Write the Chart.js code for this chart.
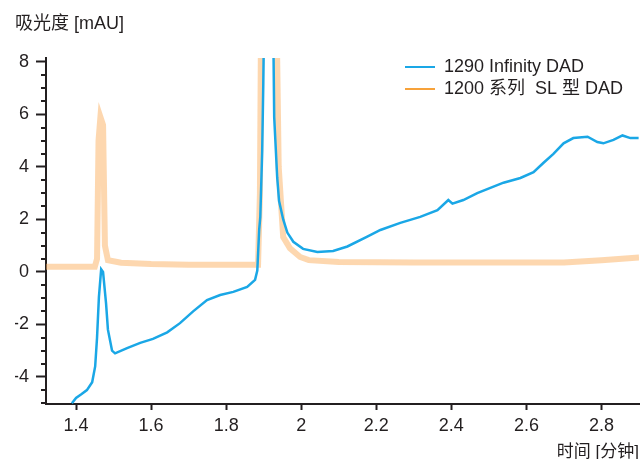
<!DOCTYPE html>
<html>
<head>
<meta charset="utf-8">
<script src="https://cdn.jsdelivr.net/npm/chart.js@4.4.1/dist/chart.umd.min.js"></script>
<style>
  html, body { margin: 0; padding: 0; background: #ffffff; }
  canvas { display: block; }
</style>
</head>
<body>
<canvas id="c" width="643" height="459"></canvas>
<script>
// ---- data ----
const seriesNames = ['1290 Infinity DAD', '1200 系列  SL 型 DAD'];
const yTitle = '吸光度 [mAU]';
const xTitle = '时间 [分钟]';

const blueTime = [1.389, 1.400, 1.415, 1.429, 1.443, 1.451, 1.456, 1.461, 1.467, 1.472,
  1.480, 1.485, 1.496, 1.504, 1.536, 1.571, 1.605, 1.643, 1.677, 1.712,
  1.749, 1.784, 1.819, 1.856, 1.877, 1.883, 1.888, 1.891, 1.896, 1.899,
  1.905, 1.922, 1.928, 1.936, 1.941, 1.952, 1.963, 1.979, 2.005, 2.043,
  2.085, 2.123, 2.176, 2.211, 2.264, 2.317, 2.363, 2.392, 2.403, 2.432,
  2.469, 2.504, 2.539, 2.584, 2.619, 2.645, 2.672, 2.699, 2.725, 2.763,
  2.789, 2.805, 2.832, 2.856, 2.877, 2.899];
const blueAbs = [-5.0, -4.8, -4.65, -4.5, -4.2, -3.6, -2.5, -0.95, 0.1, 0.0,
  -1.2, -2.2, -3.0, -3.1, -2.9, -2.7, -2.55, -2.3, -1.95, -1.5,
  -1.07, -0.88, -0.76, -0.57, -0.3, 0.05, 1.6, 2.1, 4.6, 7.2,
  14, 14, 5.9, 3.6, 2.7, 2.0, 1.5, 1.15, 0.88, 0.76,
  0.8, 0.97, 1.35, 1.6, 1.87, 2.1, 2.35, 2.74, 2.6, 2.74,
  3.0, 3.2, 3.4, 3.58, 3.8, 4.15, 4.5, 4.9, 5.1, 5.15,
  4.95, 4.9, 5.03, 5.2, 5.1, 5.1];

const orangeTime = [1.32, 1.45, 1.456, 1.460, 1.465, 1.472, 1.477, 1.485, 1.52, 1.60,
  1.70, 1.80, 1.885, 1.890, 1.895, 1.930, 1.940, 1.952, 1.970, 1.997,
  2.02, 2.10, 2.30, 2.50, 2.70, 2.80, 2.90];
const orangeAbs = [0.2, 0.2, 0.5, 5.0, 5.9, 5.6, 1.0, 0.45, 0.35, 0.3,
  0.27, 0.27, 0.27, 3.0, 14, 14, 4.0, 1.33, 0.9, 0.57,
  0.45, 0.38, 0.36, 0.36, 0.36, 0.45, 0.55];

const xTickValues = [1.4, 1.6, 1.8, 2, 2.2, 2.4, 2.6, 2.8];
const yTickValues = [-4, -2, 0, 2, 4, 6, 8];

// ---- styling ----
const INK = '#231f20';
const BLUE = '#1aa7e6';
const ORANGE = '#f7a23a';
const FONT = '"Liberation Sans", "Noto Sans CJK SC", sans-serif';

const toPoints = (xs, ys) => xs.map((x, i) => ({ x: x, y: ys[i] }));

const minorTicks = {
  id: 'minorTicks',
  afterDraw(chart) {
    const y = chart.scales.y;
    const ctx = chart.ctx;
    const left = chart.chartArea.left;
    ctx.save();
    ctx.strokeStyle = INK;
    ctx.lineWidth = 2;
    for (let k = Math.ceil(y.min * 2); k <= Math.floor(y.max * 2); k++) {
      const v = k / 2;
      if (yTickValues.includes(v)) continue;
      const py = Math.round(y.getPixelForValue(v));
      ctx.beginPath();
      ctx.moveTo(left - 5, py);
      ctx.lineTo(left, py);
      ctx.stroke();
    }
    ctx.restore();
  }
};

const placeLegend = {
  id: 'placeLegend',
  afterLayout(chart) {
    if (chart.legend) {
      chart.legend.left = 401;
      chart.legend.top = 54;
    }
  }
};

const whiteBg = {
  id: 'whiteBg',
  beforeDraw(chart) {
    const ctx = chart.ctx;
    ctx.save();
    ctx.fillStyle = '#ffffff';
    ctx.fillRect(0, 0, chart.width, chart.height);
    ctx.restore();
  }
};

new Chart(document.getElementById('c'), {
  type: 'line',
  data: {
    datasets: [
      {
        label: seriesNames[0],
        data: toPoints(blueTime, blueAbs),
        borderColor: BLUE,
        borderWidth: 2.5,
        pointRadius: 0,
        tension: 0,
        clip: 0
      },
      {
        label: seriesNames[1],
        data: toPoints(orangeTime, orangeAbs),
        borderColor: 'rgba(251,176,96,0.5)',
        borderWidth: 6,
        pointRadius: 0,
        tension: 0,
        clip: 0
      }
    ]
  },
  options: {
    responsive: false,
    animation: false,
    devicePixelRatio: 1,
    layout: { padding: { left: 15, right: 4, top: 0, bottom: 0 } },
    font: { family: FONT },
    plugins: {
      title: {
        display: true,
        text: yTitle,
        align: 'start',
        color: INK,
        font: { family: FONT, size: 18, weight: 'normal', lineHeight: 1.2 },
        padding: { top: 13, bottom: 23.4 }
      },
      legend: {
        position: 'chartArea',
        align: 'start',
        labels: {
          usePointStyle: true,
          pointStyleWidth: 30,
          boxHeight: 18,
          padding: 4,
          color: INK,
          font: { family: FONT, size: 18 },
          generateLabels: () => [
            { text: seriesNames[0], strokeStyle: BLUE, fillStyle: BLUE, lineWidth: 2, pointStyle: 'line', hidden: false, datasetIndex: 0, fontColor: INK },
            { text: seriesNames[1], strokeStyle: ORANGE, fillStyle: ORANGE, lineWidth: 2, pointStyle: 'line', hidden: false, datasetIndex: 1, fontColor: INK }
          ]
        }
      },
      tooltip: { enabled: false }
    },
    scales: {
      x: {
        type: 'linear',
        min: 1.32,
        max: 2.9,
        afterFit: (s) => { s.height = 55; },
        border: { display: true, color: INK, width: 2 },
        grid: { drawOnChartArea: false, drawTicks: true, tickLength: 6, tickColor: INK, tickWidth: 2 },
        afterBuildTicks: (s) => { s.ticks = xTickValues.map(v => ({ value: v })); },
        ticks: {
          color: INK,
          padding: 5,
          maxRotation: 0,
          autoSkip: false,
          font: { family: FONT, size: 18 },
          callback: (v) => String(+Number(v).toFixed(1))
        },
        title: {
          display: true,
          text: xTitle,
          align: 'end',
          color: INK,
          font: { family: FONT, size: 17, lineHeight: 0.8 },
          padding: { top: 0, bottom: 0 }
        }
      },
      y: {
        type: 'linear',
        min: -5.03,
        max: 8.15,
        afterFit: (s) => { s.width = 31; },
        border: { display: true, color: INK, width: 2 },
        grid: { drawOnChartArea: false, drawTicks: true, tickLength: 10, tickColor: INK, tickWidth: 2 },
        afterBuildTicks: (s) => { s.ticks = yTickValues.map(v => ({ value: v })); },
        ticks: {
          color: INK,
          padding: 7,
          font: { family: FONT, size: 18 },
          callback: (v) => String(v)
        }
      }
    }
  },
  plugins: [whiteBg, placeLegend, minorTicks]
});
</script>
</body>
</html>
